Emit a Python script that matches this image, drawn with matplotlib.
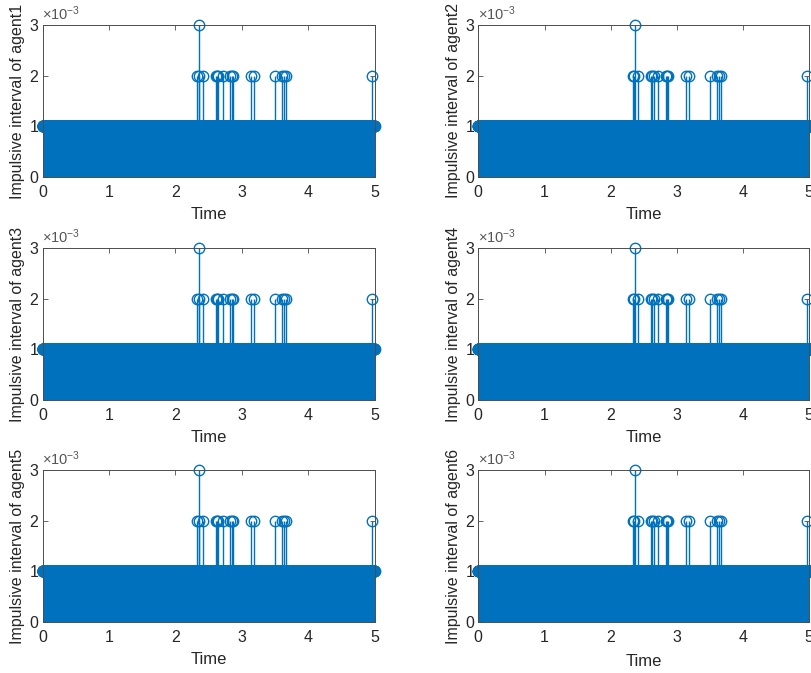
import numpy as np
import matplotlib
matplotlib.use("Agg")
import matplotlib.pyplot as plt
from matplotlib.ticker import FuncFormatter

plt.rcParams['font.family'] = ['Liberation Sans', 'DejaVu Sans']
plt.rcParams['mathtext.fontset'] = 'custom'
plt.rcParams['mathtext.rm'] = 'Liberation Sans'
plt.rcParams['mathtext.default'] = 'regular'

# impulse data (times in s, intervals in s)
agents = ['agent1', 'agent2', 'agent3', 'agent4', 'agent5', 'agent6']
t_end_ms = 5000
base_interval = 1e-3
double_times = [2.33, 2.35, 2.41, 2.61, 2.63, 2.65, 2.72, 2.83, 2.85, 2.87,
                3.14, 3.19, 3.50, 3.61, 3.63, 3.66, 4.96]
triple_times = [2.36]

# build impulse instants: step 1 ms normally, longer where an event is
events = {int(round(t * 1000)): 2 for t in double_times}
events.update({int(round(t * 1000)): 3 for t in triple_times})
times, intervals = [], []
ms = 0
while ms <= t_end_ms:
    k = events.get(ms, 1)
    times.append(ms / 1000)
    intervals.append(k * base_interval)
    ms += k
times = np.array(times)
intervals = np.array(intervals)

blue = '#0072BD'
axcol = '#4d4d4d'
txtcol = '#262626'

fig = plt.figure(figsize=(8.11, 6.73), dpi=100)

W, H = 811, 673
col_x = [42.5, 478.3]
col_w = [332, 331]
row_top = [25, 248, 470]
ax_h = 152

for i, name in enumerate(agents):
    r, c = divmod(i, 2)
    left = col_x[c] / W
    bottom = (H - row_top[r] - ax_h) / H
    ax = fig.add_axes([left, bottom, col_w[c] / W, ax_h / H])

    ax.vlines(times, 0, intervals, color=blue, linewidth=1.0)
    ax.plot(times, intervals, linestyle='', marker='o', markersize=7.5,
            markerfacecolor='none', markeredgecolor=blue, markeredgewidth=1.0,
            clip_on=False)

    ax.set_xlim(0, 5)
    ax.set_ylim(0, 3e-3)
    ax.set_xticks([0, 1, 2, 3, 4, 5])
    ax.set_yticks([0, 1e-3, 2e-3, 3e-3])
    ax.yaxis.set_major_formatter(FuncFormatter(lambda v, p: f'{v * 1e3:g}'))
    ax.tick_params(direction='in', length=3.5, width=0.6, colors=axcol,
                   labelcolor=txtcol, labelsize=11.5, top=True, right=True)
    ax.tick_params(axis='x', pad=6)
    ax.tick_params(axis='y', pad=3)
    for s in ax.spines.values():
        s.set_color(axcol)
        s.set_linewidth(0.7)

    ax.set_xlabel('Time', fontsize=12, color=txtcol, labelpad=6 if i == 5 else 5)
    ax.set_ylabel(f'Impulsive interval of {name}', fontsize=11.5, color=txtcol,
                  labelpad=3)
    ax.text(0.0, 1.015, r'$\times10^{-3}$', transform=ax.transAxes,
            fontsize=10.5, color='#555555', ha='left', va='bottom')

fig.savefig('out.png', dpi=100)
